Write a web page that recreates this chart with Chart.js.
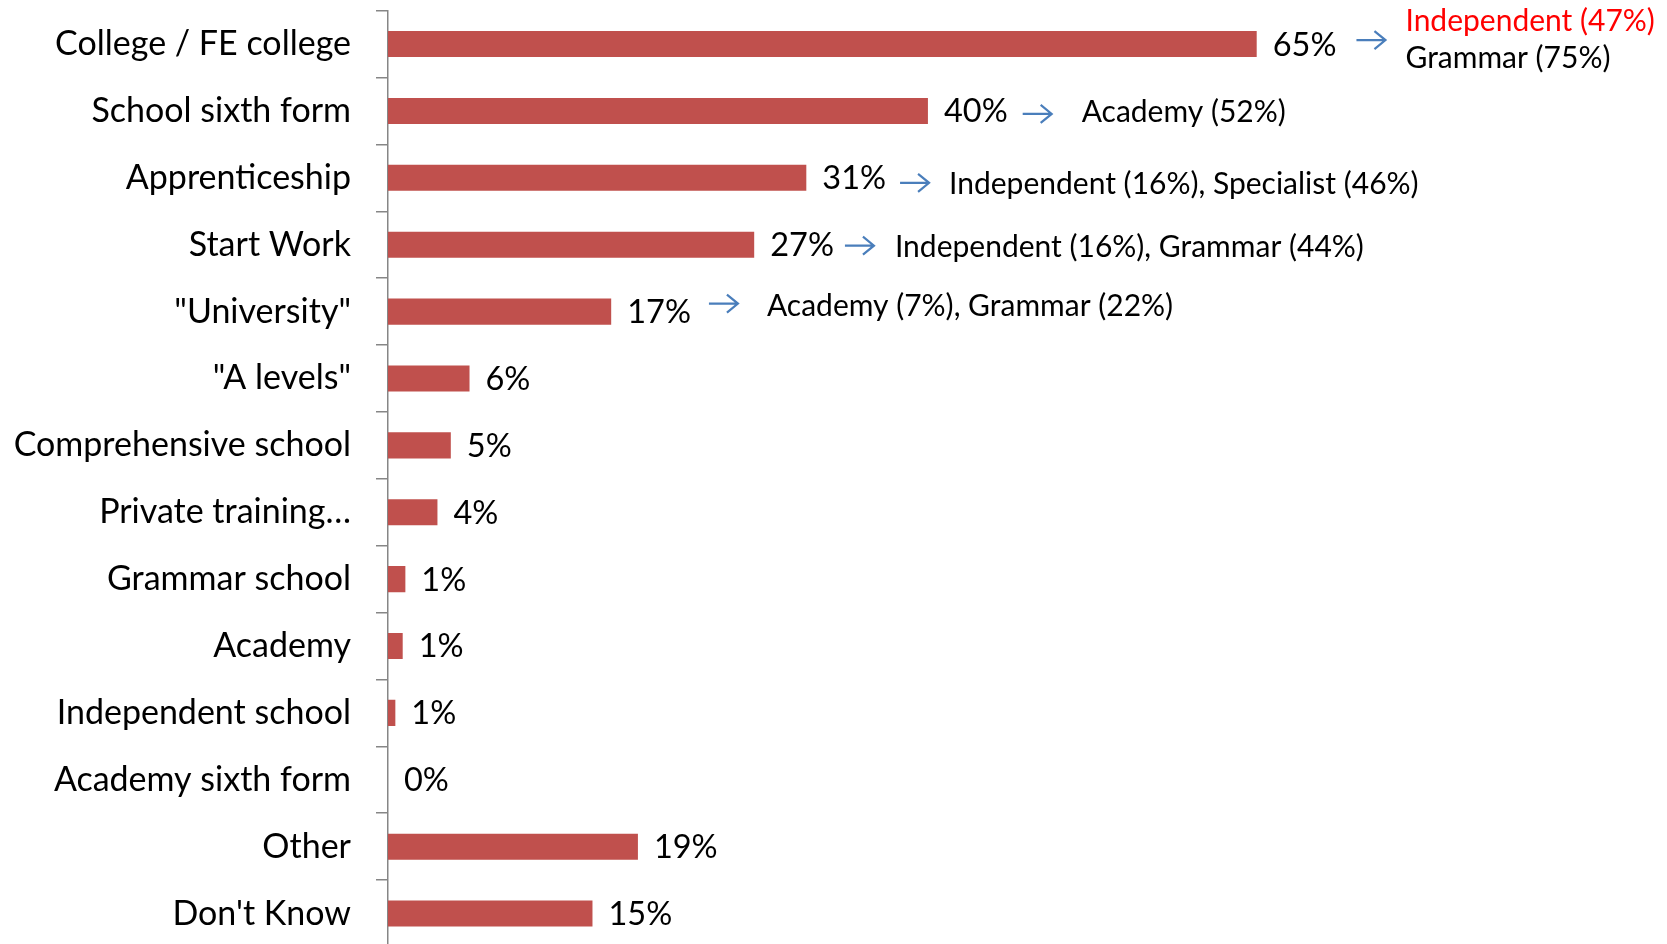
<!DOCTYPE html>
<html>
<head>
<meta charset="utf-8">
<script src="https://cdn.jsdelivr.net/npm/chart.js@4.4.0/dist/chart.umd.min.js"></script>
<style>
  html, body { margin: 0; padding: 0; background: #fff; overflow: hidden; }
  #chart { display: block; }
</style>
</head>
<body>
<canvas id="chart" width="1667" height="948"></canvas>
<script>
const categories = ['College / FE college', 'School sixth form', 'Apprenticeship', 'Start Work',
    '"University"', '"A levels"', 'Comprehensive school', 'Private training\u2026',
    'Grammar school', 'Academy', 'Independent school', 'Academy sixth form', 'Other', "Don't Know"]
const shares = [65, 40.4, 31.3, 27.4, 16.7, 6.1, 4.7, 3.7, 1.3, 1.1, 0.55, 0, 18.7, 15.3]
const shareLabels = ['65%', '40%', '31%', '27%', '17%', '6%', '5%', '4%', '1%', '1%', '1%', '0%', '19%', '15%']

// notes by school type, shown after the arrows
const noteRows = [0, 1, 2, 3, 4]
const noteLines = [
    [['Independent (47%)', '#ff0000'], ['Grammar (75%)', '#000000']],
    [['Academy (52%)', '#000000']],
    [['Independent (16%), Specialist (46%)', '#000000']],
    [['Independent (16%), Grammar (44%)', '#000000']],
    [['Academy (7%), Grammar (22%)', '#000000']]
]

// hand-tuned placement of the notes (pixels)
const noteGap = [20, 15, 14, 11, 18]      // value label end -> arrow
const noteTextGap = [20, 30, 20, 21, 29]  // arrow end -> text
const noteArrowDy = [-4, 3, 5, 1, -8]
const noteTextDy = [[-23, 14], [1], [7], [3], [-5]]

const fontFam = 'Lato, "Open Sans", sans-serif'
const barRed = '#c0504d'
const arrowBlue = '#4a7ebb'

const labelsPlugin = {
    id: 'barlabels',
    afterDatasetsDraw(chart) {
        const ctx = chart.ctx
        const meta = chart.getDatasetMeta(0)
        const labelEnds = []
        ctx.save()
        ctx.font = '32.5px ' + fontFam
        ctx.fillStyle = '#000'
        ctx.textBaseline = 'middle'
        ctx.textAlign = 'left'
        meta.data.forEach((bar, i) => {
            const x = bar.x + 16
            ctx.fillText(shareLabels[i], x, bar.y + 1)
            labelEnds[i] = x + ctx.measureText(shareLabels[i]).width
        })

        noteRows.forEach((row, n) => {
            const bar = meta.data[row]
            const ax = labelEnds[row] + noteGap[n]
            const ay = bar.y + noteArrowDy[n]
            const len = 29
            ctx.strokeStyle = arrowBlue
            ctx.lineWidth = 2.2
            ctx.beginPath()
            ctx.moveTo(ax, ay)
            ctx.lineTo(ax + len, ay)
            ctx.moveTo(ax + len - 11, ay - 9)
            ctx.lineTo(ax + len, ay)
            ctx.lineTo(ax + len - 11, ay + 9)
            ctx.stroke()

            ctx.font = '30px ' + fontFam
            noteLines[n].forEach((line, k) => {
                ctx.fillStyle = line[1]
                ctx.fillText(line[0], ax + len + noteTextGap[n], bar.y + noteTextDy[n][k])
            })
        })
        ctx.restore()
    }
}

var myChart = new Chart(document.getElementById('chart'), {
    type: 'bar',
    data: {
        labels: categories,
        datasets: [{
            data: shares,
            backgroundColor: barRed,
            categoryPercentage: 1,
            barPercentage: 0.39
        }]
    },
    options: {
        indexAxis: 'y',
        responsive: false,
        animation: false,
        layout: { padding: { top: 10.6, right: 0, bottom: 1, left: 0 } },
        plugins: {
            legend: { display: false },
            tooltip: { enabled: false }
        },
        scales: {
            x: {
                display: false,
                min: 0,
                max: 95.7
            },
            y: {
                afterFit(scale) {
                    scale.width = 388
                    scale.paddingTop = 0
                    scale.paddingBottom = 0
                },
                grid: {
                    drawOnChartArea: false,
                    tickLength: 12,
                    color: '#868686',
                    lineWidth: 1.5,
                    offset: true
                },
                border: { color: '#868686', width: 1.5 },
                ticks: {
                    color: '#000',
                    padding: 25,
                    font: { family: fontFam, size: 34 }
                }
            }
        }
    },
    plugins: [labelsPlugin]
});
</script>
</body>
</html>
